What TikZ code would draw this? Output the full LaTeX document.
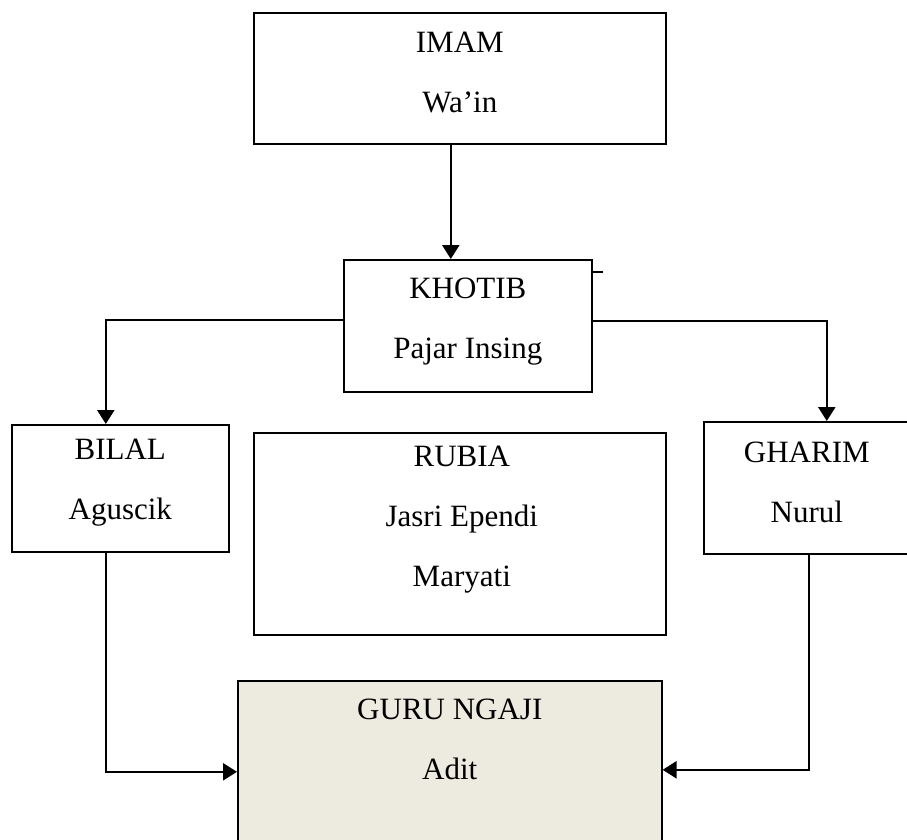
\documentclass[tikz,border=0pt]{standalone}
\usepackage{fontspec}
\setmainfont{Liberation Serif}
\usetikzlibrary{positioning,arrows.meta}
\definecolor{guruFill}{RGB}{237,235,224}
\begin{document}
\begin{tikzpicture}[
                    x=1pt, y=-1pt,
                    >={Triangle[length=14pt,width=17pt]},
                    box/.style={draw, rectangle, line width=1.6pt, inner sep=0pt, anchor=north west},
                    txt/.style={align=center, inner sep=0pt, anchor=north,
                                font=\fontsize{31}{60}\selectfont},
                    link/.style={draw, line width=2.4pt}
                    ]

                    \useasboundingbox (0,0) rectangle (907,839);

                    \node [box, minimum width=412pt, minimum height=131pt] (imam) at (253,12) {};
                    \node [box, minimum width=248pt, minimum height=132pt] (khotib) at (343,259) {};
                    \node [box, minimum width=217pt, minimum height=127pt] (bilal) at (11,424) {};
                    \node [box, minimum width=412pt, minimum height=202pt] (rubia) at (253,432) {};
                    \node [box, minimum width=220pt, minimum height=132pt] (gharim) at (703,421) {};
                    \node [box, fill=guruFill, minimum width=424pt, minimum height=175pt] (guru) at (237,680) {};

                    \node [txt, below=20pt of imam.north] (imamtxt) {IMAM\\Wa’in};
                    \node [txt, below=19pt of khotib.north] (khotibtxt) {KHOTIB\\Pajar Insing};
                    \node [txt, below=15pt of bilal.north] (bilaltxt) {BILAL\\Aguscik};
                    \node [txt, below=14pt of rubia.north, xshift=2pt] (rubiatxt) {RUBIA\\Jasri Ependi\\Maryati};
                    \node [txt, below=21pt of gharim.north, xshift=-7pt] (gharimtxt) {GHARIM\\Nurul};
                    \node [txt, below=19pt of guru.north] (gurutxt) {GURU NGAJI\\Adit};

                    \draw[link,->] ([xshift=-9pt]imam.south) -- ([xshift=-9pt]imam.south |- khotib.north);
                    \draw[link,->] ([yshift=6pt]khotib.west) -| ([xshift=-14.5pt]bilal.north);
                    \draw[link,->] ([yshift=5pt]khotib.east) -| ([xshift=13pt]gharim.north);
                    \draw[link,->] ([xshift=-14.5pt]bilal.south) |- ([yshift=-3.5pt]guru.west);
                    \draw[link,->] ([xshift=-5pt]gharim.south) |- ([yshift=-1.5pt]guru.east);
                    \draw[line width=1.6pt] ([yshift=-13pt]khotib.north east) -- ++(10,0);

                \end{tikzpicture}
\end{document}
